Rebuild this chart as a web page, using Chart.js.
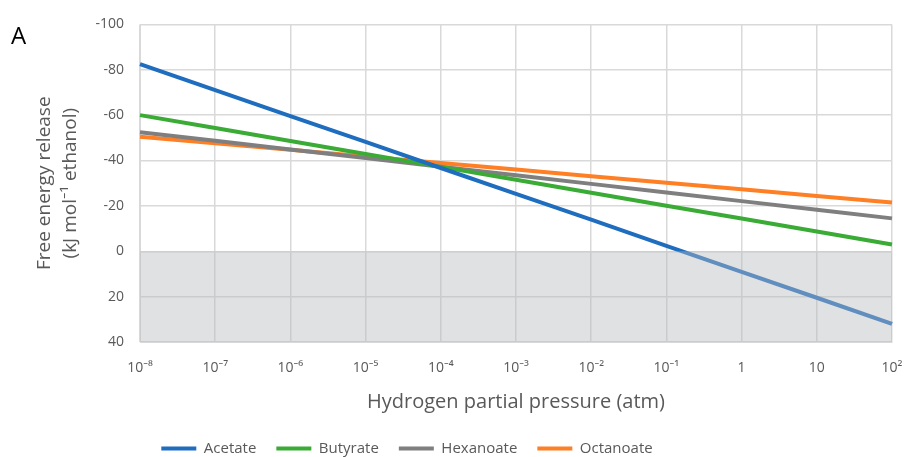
<!DOCTYPE html>
<html>
<head>
<meta charset="utf-8">
<script src="https://cdn.jsdelivr.net/npm/chart.js@4"></script>
<style>
  html, body { margin: 0; padding: 0; background: #fff; }
  #wrap { width: 909px; height: 457px; }
</style>
</head>
<body>
<div id="wrap"><canvas id="myChart" width="909" height="457"></canvas></div>
<script>
// x categories: hydrogen partial pressure, one per decade
var pressureLabels = ['10⁻⁸', '10⁻⁷', '10⁻⁶', '10⁻⁵', '10⁻⁴', '10⁻³', '10⁻²', '10⁻¹', '1', '10', '10²'];

// free energy release (kJ/mol ethanol)
var acetate   = [-82.5, -71.0, -59.6, -48.2, -36.7, -25.3, -13.9, -2.4, 9.1, 20.5, 32.0];
var butyrate  = [-60.0, -54.3, -48.6, -42.9, -37.2, -31.5, -25.8, -20.1, -14.4, -8.7, -3.0];
var hexanoate = [-52.5, -48.7, -44.9, -41.1, -37.3, -33.5, -29.7, -25.9, -22.1, -18.3, -14.5];
var octanoate = [-50.5, -47.6, -44.7, -41.8, -38.9, -36.0, -33.1, -30.2, -27.3, -24.4, -21.5];

var yTicks = [-100, -80, -60, -40, -20, 0, 20, 40];

var fontFam = "'Open Sans', 'Noto Sans', sans-serif";
var textGrey = '#595959';

// grey box over the endergonic part (0..40), drawn on top of the lines
var shadePlugin = {
  id: 'shade',
  afterDatasetsDraw: function (chart) {
    var ctx = chart.ctx, a = chart.chartArea, y = chart.scales.y;
    var top = y.getPixelForValue(0), bot = y.getPixelForValue(40);
    ctx.save();
    ctx.fillStyle = 'rgba(183,185,189,0.43)';
    ctx.fillRect(a.left, top, a.right - a.left, bot - top);
    ctx.restore();
  }
};

var panelLetter = {
  id: 'panelLetter',
  afterDraw: function (chart) {
    var ctx = chart.ctx;
    ctx.save();
    ctx.fillStyle = '#000';
    ctx.font = "24px " + fontFam;
    ctx.textBaseline = 'middle';
    ctx.fillText('A', 11, 37);
    ctx.restore();
  }
};

// legend: keep item gaps but a short box, and nudge it left like the original
var legendTweak = {
  id: 'legendTweak',
  afterInit: function (chart) {
    var lg = chart.legend;
    var fit = lg.fit;
    lg.fit = function () {
      fit.call(this);
      this.height = 36;
    };
  },
  afterLayout: function (chart) {
    chart.legend.left -= 39;
    chart.legend.right -= 39;
  }
};

function line(name, data, color) {
  return {
    label: name,
    data: data,
    borderColor: color,
    backgroundColor: color,
    borderWidth: 4,
    pointRadius: 0,
    tension: 0
  };
}

var ctx = document.getElementById('myChart');
var myChart = new Chart(ctx, {
  type: 'line',
  data: {
    labels: pressureLabels,
    datasets: [
      line('Acetate', acetate, '#1f6dbf'),
      line('Butyrate', butyrate, '#3aab35'),
      line('Hexanoate', hexanoate, '#7f7f7f'),
      line('Octanoate', octanoate, '#ff7f24')
    ]
  },
  options: {
    responsive: false,
    animation: false,
    layout: { padding: { top: 12, right: 17, left: 0, bottom: 0 } },
    plugins: {
      legend: {
        position: 'bottom',
        labels: {
          boxWidth: 35,
          boxHeight: 4,
          padding: 20,
          color: textGrey,
          font: { family: fontFam, size: 15 },
          generateLabels: function (chart) {
            return Chart.defaults.plugins.legend.labels.generateLabels(chart).map(function (l) {
              l.lineWidth = 0;
              return l;
            });
          }
        }
      },
      tooltip: { enabled: false }
    },
    scales: {
      x: {
        type: 'category',
        offset: false,
        grid: { color: '#d9d9d9', lineWidth: 1.5, drawTicks: false },
        border: { color: '#d9d9d9' },
        ticks: {
          color: textGrey,
          padding: 18,
          maxRotation: 0,
          autoSkip: false,
          font: { family: fontFam, size: 14 }
        },
        title: {
          display: true,
          text: 'Hydrogen partial pressure (atm)',
          color: textGrey,
          padding: { top: 0, bottom: 7 },
          font: { family: fontFam, size: 20 }
        },
        afterFit: function (s) {
          s.height = 79;
          s.paddingLeft = 0;
          s.paddingRight = 0;
        }
      },
      y: {
        reverse: true,
        min: -100,
        max: 40,
        afterBuildTicks: function (s) {
          s.ticks = yTicks.map(function (v) { return { value: v }; });
        },
        grid: { color: '#d9d9d9', lineWidth: 1.5, drawTicks: false },
        border: { color: '#d9d9d9' },
        ticks: {
          color: textGrey,
          padding: 16,
          font: { family: fontFam, size: 14 }
        },
        title: {
          display: true,
          text: ['Free energy release', '(kJ mol⁻¹ ethanol)'],
          color: textGrey,
          padding: { top: 32, bottom: 0 },
          font: { family: fontFam, size: 19, lineHeight: 1.35 }
        },
        afterFit: function (s) { s.width = 140; }
      }
    }
  },
  plugins: [shadePlugin, panelLetter, legendTweak]
});
</script>
</body>
</html>
